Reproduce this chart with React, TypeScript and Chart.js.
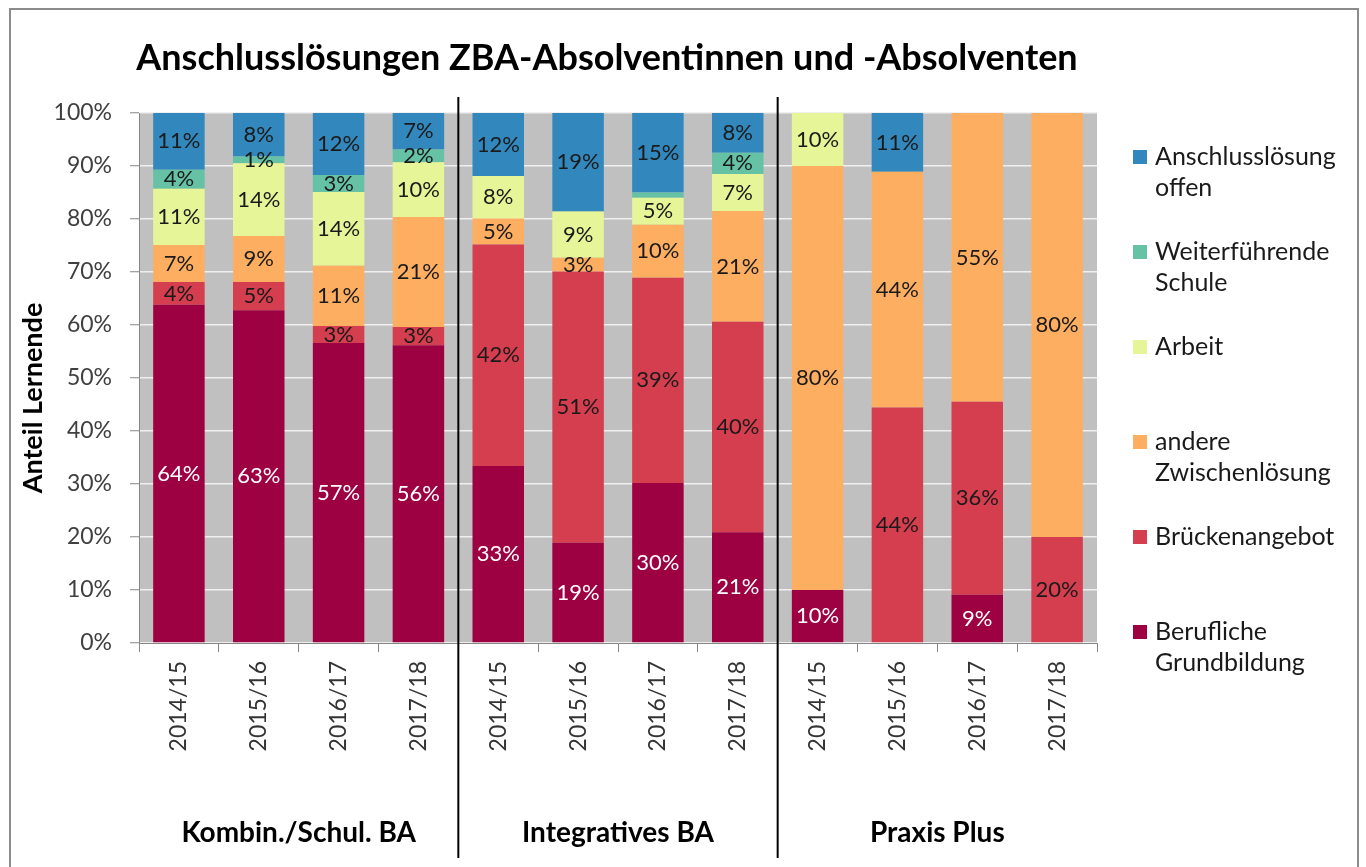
import React, { useEffect, useRef } from "react";
import { Chart, registerables } from "chart.js";

Chart.register(...registerables);

const years = ["2014/15", "2015/16", "2016/17", "2017/18"];
const groups = ["Kombin./Schul. BA", "Integratives BA", "Praxis Plus"];
const categories = [...years, ...years, ...years];

const berufliche = [63.8, 62.8, 56.6, 56.2, 33.4, 18.9, 30.2, 20.9, 10.0, 0, 9.1, 0];
const bruecken = [4.3, 5.3, 3.2, 3.4, 41.8, 51.2, 38.7, 39.7, 0, 44.45, 36.4, 20];
const andere = [7.0, 8.7, 11.4, 20.8, 4.9, 2.6, 10.0, 20.9, 80, 44.45, 54.5, 80];
const arbeit = [10.6, 13.7, 13.9, 10.3, 8.0, 8.7, 5.1, 7.0, 10, 0, 0, 0];
const weiter = [3.6, 1.3, 3.2, 2.4, 0, 0, 1.0, 4.0, 0, 0, 0, 0];
const offen = [10.7, 8.2, 11.7, 6.9, 11.9, 18.6, 15.0, 7.5, 0, 11.1, 0, 0];

const seriesNames = [
  "Berufliche Grundbildung",
  "Brückenangebot",
  "andere Zwischenlösung",
  "Arbeit",
  "Weiterführende Schule",
  "Anschlusslösung offen",
];
const legendLines = [
  ["Berufliche", "Grundbildung"],
  ["Brückenangebot"],
  ["andere", "Zwischenlösung"],
  ["Arbeit"],
  ["Weiterführende", "Schule"],
  ["Anschlusslösung", "offen"],
];
const seriesColors = ["#9e0142", "#d53e4f", "#fdae61", "#e6f598", "#66c2a5", "#3288bd"];
const seriesValues = [berufliche, bruecken, andere, arbeit, weiter, offen];

const yTicks = [0, 10, 20, 30, 40, 50, 60, 70, 80, 90, 100];

const FONT = "Lato, 'Open Sans', sans-serif";

const decorPlugin = {
  id: "decor",
  beforeDraw(chart: any) {
    const { ctx, chartArea } = chart;
    ctx.save();
    ctx.fillStyle = "#ffffff";
    ctx.fillRect(0, 0, chart.width, chart.height);
    ctx.fillStyle = "#c0c0c0";
    ctx.fillRect(chartArea.left, chartArea.top, chartArea.right - chartArea.left, chartArea.bottom - chartArea.top);
    ctx.restore();
  },
  afterDraw(chart: any) {
    const { ctx } = chart;
    const xs = chart.scales.x;
    ctx.save();
    // outer frame
    ctx.strokeStyle = "#8c8c8c";
    ctx.lineWidth = 2;
    ctx.strokeRect(10, 9, 1348, 900);

    // title
    ctx.fillStyle = "#000000";
    ctx.font = `bold 36px ${FONT}`;
    ctx.textAlign = "center";
    ctx.textBaseline = "middle";
    ctx.fillText("Anschlusslösungen ZBA-Absolventinnen und -Absolventen", 607, 58);

    // y axis title
    ctx.save();
    ctx.translate(33, 398);
    ctx.rotate(-Math.PI / 2);
    ctx.font = `bold 27px ${FONT}`;
    ctx.fillText("Anteil Lernende", 0, 0);
    ctx.restore();

    // separators + group labels
    ctx.strokeStyle = "#000000";
    ctx.lineWidth = 2;
    for (let g = 1; g < groups.length; g++) {
      const sx = (xs.getPixelForValue(g * 4 - 1) + xs.getPixelForValue(g * 4)) / 2;
      ctx.beginPath();
      ctx.moveTo(sx, 97);
      ctx.lineTo(sx, 858);
      ctx.stroke();
    }
    ctx.font = `bold 28px ${FONT}`;
    ctx.fillStyle = "#000000";
    groups.forEach((g, i) => {
      const cx = (xs.getPixelForValue(i * 4) + xs.getPixelForValue(i * 4 + 3)) / 2;
      ctx.fillText(g, cx, 833);
    });

    // legend (reverse order)
    ctx.textAlign = "left";
    ctx.font = `25px ${FONT}`;
    for (let k = 0; k < seriesNames.length; k++) {
      const i = seriesNames.length - 1 - k;
      const y0 = 157 + 95 * k;
      ctx.fillStyle = seriesColors[i];
      ctx.fillRect(1133, y0 - 7, 14, 14);
      ctx.fillStyle = "#1a1a1a";
      legendLines[i].forEach((line, j) => {
        ctx.fillText(line, 1155, y0 + 31 * j);
      });
    }
    ctx.restore();
  },
};

const labelPlugin = {
  id: "barLabels",
  afterDatasetsDraw(chart: any) {
    const { ctx } = chart;
    ctx.save();
    ctx.font = `22px ${FONT}`;
    ctx.textAlign = "center";
    ctx.textBaseline = "middle";
    chart.data.datasets.forEach((ds: any, di: number) => {
      const meta = chart.getDatasetMeta(di);
      meta.data.forEach((el: any, idx: number) => {
        const v = ds.data[idx];
        if (v < 1.2) return;
        const cy = (el.y + el.base) / 2;
        ctx.fillStyle = di === 0 ? "#ffffff" : "#1a1a1a";
        ctx.fillText(`${Math.round(v)}%`, el.x, cy);
      });
    });
    ctx.restore();
  },
};

export default function App() {
  const ref = useRef<HTMLCanvasElement>(null);
  useEffect(() => {
    if (!ref.current) return;
    const chart = new Chart(ref.current, {
      type: "bar",
      data: {
        labels: categories,
        datasets: seriesValues.map((vals, i) => ({
          label: seriesNames[i],
          data: vals,
          backgroundColor: seriesColors[i],
          borderWidth: 0,
          barPercentage: 0.645,
          categoryPercentage: 1,
        })),
      },
      options: {
        responsive: false,
        animation: false,
        devicePixelRatio: 1,
        layout: { padding: { left: 10, top: 113, right: 269, bottom: 0 } },
        plugins: {
          legend: { display: false },
          tooltip: { enabled: false },
          title: { display: false },
        },
        scales: {
          x: {
            stacked: true,
            afterFit: (s: any) => {
              s.height = 224;
            },
            grid: {
              display: true,
              drawOnChartArea: false,
              drawTicks: true,
              tickLength: 9,
              tickColor: "#868686",
              offset: true,
            },
            border: { display: true, color: "#868686", width: 1 },
            ticks: {
              autoSkip: false,
              minRotation: 90,
              maxRotation: 90,
              padding: 9,
              color: "#333333",
              font: { family: FONT, size: 23 },
            },
          },
          y: {
            stacked: true,
            min: 0,
            max: 100,
            afterFit: (s: any) => {
              s.width = 129;
            },
            afterBuildTicks: (s: any) => {
              s.ticks = yTicks.map((v) => ({ value: v }));
            },
            grid: {
              color: "#efefef",
              lineWidth: 1.5,
              drawTicks: true,
              tickLength: 9,
              tickColor: "#868686",
              tickWidth: 1,
            },
            border: { display: true, color: "#868686", width: 1 },
            ticks: {
              padding: 18,
              color: "#404040",
              font: { family: FONT, size: 23 },
              callback: (v: any) => `${v}%`,
            },
          },
        },
      },
      plugins: [decorPlugin, labelPlugin],
    });
    return () => chart.destroy();
  }, []);
  return (
    <div style={{ position: "absolute", left: 0, top: 0, width: 1366, height: 867 }}>
      <canvas ref={ref} width={1366} height={867} style={{ width: 1366, height: 867, display: "block" }} />
    </div>
  );
}
